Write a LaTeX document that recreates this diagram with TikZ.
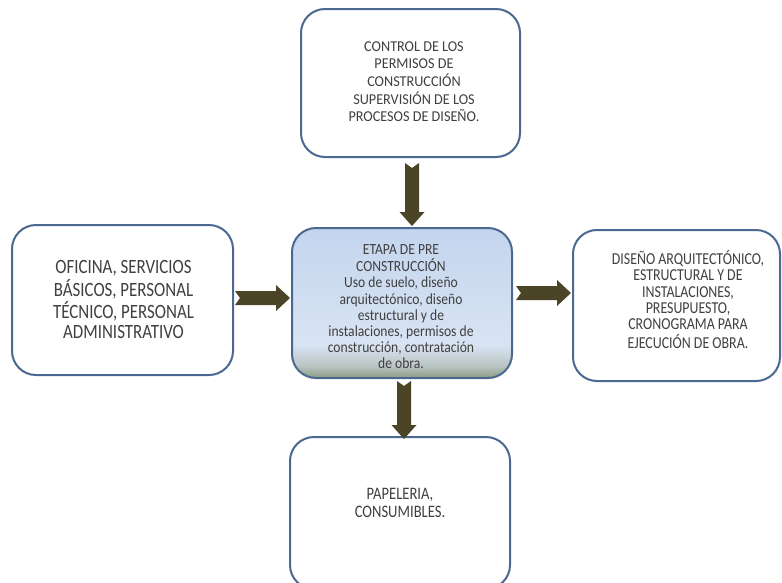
\documentclass[tikz,border=0pt]{standalone}
\usepackage{fontspec}
\usepackage{graphicx}
\setmainfont{Carlito}
\usetikzlibrary{calc}
\definecolor{bordc}{HTML}{4A6890}
\definecolor{txtc}{HTML}{404040}
\definecolor{arrc}{HTML}{4B4427}
\definecolor{bA}{HTML}{C3D5EE}
\definecolor{bB}{HTML}{D9E4F3}
\definecolor{gA}{HTML}{8A9A86}
\definecolor{gB}{HTML}{B9C4C2}
\pgfdeclareverticalshading{ctrshade}{100bp}{color(0bp)=(gA); color(25bp)=(gA); color(29bp)=(gB); color(36bp)=(bB); color(75bp)=(bA); color(100bp)=(bA)}
\newcommand\fatdown[2]{%
  \fill[arrc] let \p1=(#1), \p2=(#2) in
    (\x1-7pt,\y1) -- (\x1,\y1-5pt) -- (\x1+7pt,\y1) -- (\x1+7pt,\y2+14pt)
    -- (\x1+12.5pt,\y2+14pt) -- (\x1,\y2) -- (\x1-12.5pt,\y2+14pt)
    -- (\x1-7pt,\y2+14pt) -- cycle;}
\newcommand\fatright[2]{%
  \fill[arrc] let \p1=(#1), \p2=(#2) in
    (\x1,\y1+7pt) -- (\x1+5pt,\y1) -- (\x1,\y1-7pt) -- (\x2-14pt,\y1-7pt)
    -- (\x2-14pt,\y1-13pt) -- (\x2,\y1) -- (\x2-14pt,\y1+13pt)
    -- (\x2-14pt,\y1+7pt) -- cycle;}
% text, slightly stretched vertically like the reference
% #1 vertical stretch, #2 size, #3 skip, #4 lines
\newcommand\boxtext[4]{\scalebox{1}[#1]{\fontsize{#2}{#3}\selectfont\begin{tabular}{@{}c@{}}#4\end{tabular}}}
\tikzset{
  box/.style={draw=bordc, line width=2pt, rounded corners=24pt, fill=white, inner sep=0pt},
  ctrbox/.style={draw=bordc, line width=2pt, rounded corners=24pt, shading=ctrshade, inner sep=0pt},
  txt/.style={align=center, text=txtc, inner sep=0pt}
}
\begin{document}
\begin{tikzpicture}[x=1pt,y=-1pt]
\useasboundingbox (0,0) rectangle (782,582);
\fill[white] (0,0) rectangle (782,582);
\begin{scope}
\clip (0,0) rectangle (782,582);
% boxes
\node[box, minimum width=219pt, minimum height=148pt] (top) at (410.5,83) {};
\node[ctrbox, minimum width=220pt, minimum height=150pt] (ctr) at (402,303) {};
\node[box, minimum width=221pt, minimum height=150pt] (left) at (122.5,300) {};
\node[box, minimum width=207pt, minimum height=151pt] (right) at (676.5,305.5) {};
\node[box, minimum width=220pt, minimum height=152pt] (bot) at (400,513) {};
% texts
\node[txt] (topT) at (414,83)
  {\boxtext{1.06}{14.2}{16.5}{CONTROL DE LOS\\PERMISOS DE\\CONSTRUCCIÓN\\SUPERVISIÓN DE LOS\\PROCESOS DE DISEÑO.}};
\node[txt] (ctrT) at (401,308)
  {\boxtext{1.14}{13.6}{14.1}{ETAPA DE PRE\\CONSTRUCCIÓN\\Uso de suelo, diseño\\arquitectónico, diseño\\estructural y de\\instalaciones, permisos de\\construcción, contratación\\de obra.}};
\node[txt] (leftT) at (123.5,302)
  {\boxtext{1.2}{16.9}{16.1}{OFICINA, SERVICIOS\\BÁSICOS, PERSONAL\\TÉCNICO, PERSONAL\\ADMINISTRATIVO}};
\node[txt] (rightT) at (688,302)
  {\boxtext{1.2}{13.9}{13.5}{DISEÑO ARQUITECTÓNICO,\\ESTRUCTURAL Y DE\\INSTALACIONES,\\PRESUPUESTO,\\CRONOGRAMA PARA\\EJECUCIÓN DE OBRA.}};
\node[txt] (botT) at (400,505)
  {\boxtext{1.2}{14.6}{15}{PAPELERIA,\\CONSUMIBLES.}};
% connector end points
\coordinate (a1s) at ($(top.south)+(1.5,5)$);
\coordinate (a1e) at ($(ctr.north)+(10,-1)$);
\coordinate (a2s) at ($(ctr.south)+(2,2)$);
\coordinate (a2e) at ($(bot.north)+(4,3)$);
\coordinate (a3s) at ($(left.east)+(1,-2)$);
\coordinate (a3e) at ($(ctr.west)+(-1,-5)$);
\coordinate (a4s) at ($(ctr.east)+(3,-10)$);
\coordinate (a4e) at ($(right.west)+(-1,-12)$);
\fatdown{a1s}{a1e}
\fatdown{a2s}{a2e}
\fatright{a3s}{a3e}
\fatright{a4s}{a4e}
\end{scope}
\end{tikzpicture}
\end{document}
